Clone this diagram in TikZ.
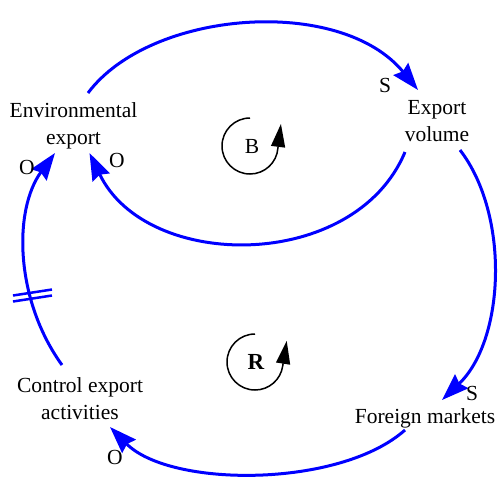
\documentclass[tikz,border=0pt]{standalone}
\usepackage{fontspec}
\setmainfont{Liberation Serif}
\usetikzlibrary{arrows.meta}
\tikzset{
  factor/.style={align=center, inner sep=0pt, font=\fontsize{21.5}{27}\selectfont},
  polarity/.style={inner sep=0pt, font=\fontsize{21.5}{26}\selectfont},
  link/.style={draw=blue, line width=3pt, -{Stealth[length=27pt,width=19pt,inset=3pt]}},
  delaymark/.style={draw=blue, line width=2.5pt},
  loopmark/.style={draw=black, line width=1.5pt, -{Triangle[length=23pt,width=14pt]}}
}
\begin{document}
\begin{tikzpicture}[x=1pt, y=-1pt]
\useasboundingbox (0,0) rectangle (498,480);

% factors of the causal loop
\node[factor] (env) at (73.5,126) {Environmental\\export};
\node[factor] (vol) at (437,121) {Export\\volume};
\node[factor] (mkt) at (425,418) {Foreign markets};
\node[factor] (ctl) at (80,399) {Control export\\activities};

% causal links
\draw[link] ([shift={(14.5,-33)}]env.center) .. controls +(62,-83) and +(-78,-95) .. ([shift={(-19,-31)}]vol.center);
\draw[link] ([shift={(-32,31)}]vol.center) .. controls +(-50,120) and +(57,119) .. ([shift={(16,27)}]env.center);
\draw[link] ([shift={(23,29)}]vol.center) .. controls +(50,65) and +(63,-60) .. ([shift={(17,-18)}]mkt.center);
\draw[link] ([shift={(-20,12)}]mkt.center) .. controls +(-65,58) and +(60,61) .. ([shift={(30,28)}]ctl.center);
\draw[link] ([shift={(-18,-34)}]ctl.center) .. controls +(-47,-65) and +(-42,57) .. ([shift={(-18.5,27)}]env.center);

% delay on the control link
\draw[delaymark] (13,295.5) -- (52,289.5);
\draw[delaymark] (13,301.5) -- (52,295.5);

% polarities
\node[polarity] (p1) at (385,85) {S};
\node[polarity] (p2) at (117,160) {O};
\node[polarity] (p3) at (472,393) {S};
\node[polarity] (p4) at (115,457) {O};
\node[polarity] (p5) at (27,167) {O};

% loop markers
\node[polarity] (loopB) at (252,146) {B};
\draw[loopmark] (250,118) arc[start angle=270, end angle=4, radius=28] -- ++(3,-24);
\node[inner sep=0pt, font=\fontsize{23}{26}\selectfont\bfseries] (loopR) at (256,362) {R};
\draw[loopmark] (255,334) arc[start angle=270, end angle=8, radius=28] -- ++(4,-25);
\end{tikzpicture}
\end{document}
